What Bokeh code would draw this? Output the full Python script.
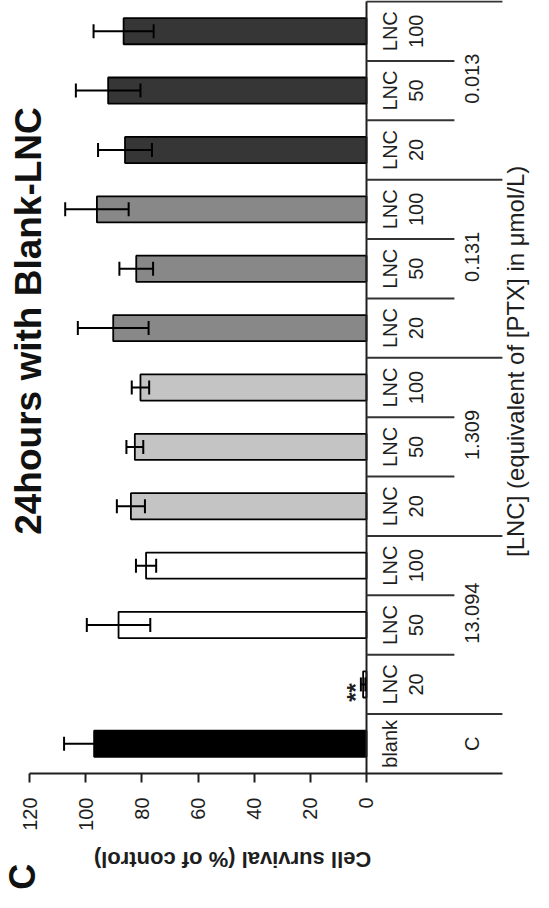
import math
import numpy as np
from bokeh.plotting import figure
from bokeh.models import Range1d, FixedTicker, ColumnDataSource, Whisker, TeeHead, Label
from bokeh.core.properties import value
from bokeh.embed import file_html
from bokeh.resources import INLINE

# ---------------- data ----------------
cat_line1 = ["blank", "LNC", "LNC", "LNC", "LNC", "LNC", "LNC",
             "LNC", "LNC", "LNC", "LNC", "LNC", "LNC"]
cat_line2 = ["", "20", "50", "100", "20", "50", "100",
             "20", "50", "100", "20", "50", "100"]
ptx_groups = ["C", "13.094", "1.309", "0.131", "0.013"]
bar_group = [0, 1, 1, 1, 2, 2, 2, 3, 3, 3, 4, 4, 4]
survival = [97.0, 1.2, 88.3, 78.5, 83.9, 82.5, 80.5, 90.2, 82.0, 96.0, 86.0, 92.0, 86.5]
sd = [10.7, 0.8, 11.3, 3.6, 5.0, 3.0, 3.1, 12.6, 6.0, 11.3, 9.6, 11.5, 10.7]
value_ticks = [0, 20, 40, 60, 80, 100, 120]
signif = {1: "**"}

title = "24hours with Blank-LNC"
value_label = "Cell survival (% of control)"
table_label = "[LNC] (equivalent of [PTX] in \u03bcmol/L)"
panel_letter = "C"

# ---------------- style ----------------
group_colors = ["#000000", "#ffffff", "#c4c4c4", "#888888", "#363636"]
FONT = value("Liberation Sans")
INK = "#1e1e1e"
BAR_H = 0.44
LNC_X = -8.4        # first line of the category label (value units)
DOSE_X = -17.6      # second line of the category label
GROUP_X = -37.6     # group ([PTX]) labels
SHORT_END = -31.3   # short separators
LONG_END = -48.4    # long separators / table edge

n = len(survival)
ypos = np.arange(n) + 0.5
colors = [group_colors[g] for g in bar_group]

p = figure(width=533, height=892, output_backend="svg", toolbar_location=None,
           x_range=Range1d(130.34, -59.47), y_range=Range1d(-2.004, n + 0.017),
           y_axis_location=None, min_border_left=0, min_border_right=0,
           min_border_top=0, min_border_bottom=0)
p.grid.visible = False
p.outline_line_color = None
p.background_fill_color = "white"
p.border_fill_color = "white"

src = ColumnDataSource(dict(y=ypos, v=survival, sd=sd, color=colors,
                            lo=np.array(survival) - np.array(sd),
                            hi=np.array(survival) + np.array(sd)))

p.hbar(y="y", left=0, right="v", height=BAR_H, fill_color="color",
       line_color="black", line_width=1.8, source=src)

wk = Whisker(base="y", lower="lo", upper="hi", dimension="width", source=src,
             line_color="black", line_width=2, level="overlay",
             lower_head=TeeHead(size=14, line_color="black", line_width=2),
             upper_head=TeeHead(size=14, line_color="black", line_width=2))
p.add_layout(wk)

# value axis (fixed at the category baseline)
ax = p.xaxis[0]
ax.fixed_location = 0
ax.ticker = FixedTicker(ticks=value_ticks)
ax.bounds = (LONG_END, max(value_ticks))
ax.major_label_orientation = math.pi / 2
ax.major_label_text_font = "Liberation Sans"
ax.major_label_text_font_size = "20px"
ax.major_label_text_color = INK
ax.major_label_standoff = 15
ax.major_tick_out = 9
ax.major_tick_in = 0
ax.minor_tick_out = 0
ax.minor_tick_in = 0
ax.axis_line_width = 2
ax.axis_line_color = INK
ax.major_tick_line_width = 2
ax.major_tick_line_color = INK

# category axis line and table
p.segment(x0=[0], y0=[0], x1=[0], y1=[n], line_color=INK, line_width=2)
starts = [i for i in range(1, n) if bar_group[i] != bar_group[i - 1]] + [n]
bx0, by, bx1 = [], [], []
for k in range(1, n + 1):
    bx0.append(0)
    by.append(k)
    bx1.append(LONG_END if k in starts else SHORT_END)
p.segment(x0=bx0, y0=by, x1=bx1, y1=by, line_color="#333333", line_width=2)

txt = dict(angle=math.pi / 2, text_align="center", text_baseline="middle",
           text_font=FONT, text_font_size="20px", text_color=INK)
p.text(x=[LNC_X] * n, y=ypos, text=cat_line1, **txt)
p.text(x=[DOSE_X] * n, y=ypos, text=cat_line2, **txt)

gy = []
for g in range(len(ptx_groups)):
    members = [ypos[i] for i in range(n) if bar_group[i] == g]
    gy.append(float(np.mean(members)) + (0.2 if len(members) > 1 else 0.0))
p.text(x=[GROUP_X] * len(ptx_groups), y=gy, text=ptx_groups, **txt)

# significance marks
sx = [survival[i] + sd[i] for i in signif]
sy = [ypos[i] for i in signif]
p.text(x=sx, y=sy, text=list(signif.values()), angle=math.pi / 2,
       text_align="center", text_baseline="middle", text_font=FONT,
       text_font_size="24px", text_font_style="bold", text_color=INK,
       x_offset=-5, y_offset=8)

# titles / labels
p.add_layout(Label(x=120.2, y=7.62, text=title, angle=math.pi / 2,
                   text_align="center", text_baseline="middle",
                   text_font="Liberation Sans", text_font_size="37px",
                   text_font_style="bold", text_color="#111111"))
p.add_layout(Label(x=47.7, y=-1.45, text=value_label, angle=math.pi,
                   text_align="center", text_baseline="middle",
                   text_font="Liberation Sans", text_font_size="22px",
                   text_font_style="bold", text_color=INK))
p.add_layout(Label(x=-53.2, y=6.94, text=table_label, angle=math.pi / 2,
                   text_align="center", text_baseline="middle",
                   text_font="Liberation Sans", text_font_size="24px",
                   text_color=INK))
p.add_layout(Label(x=122.4, y=-1.74, text=panel_letter, angle=math.pi / 2,
                   text_align="center", text_baseline="middle",
                   text_font="Liberation Sans", text_font_size="36px",
                   text_font_style="bold", text_color="#111111"))

open("out.html", "w").write(file_html(p, INLINE))
